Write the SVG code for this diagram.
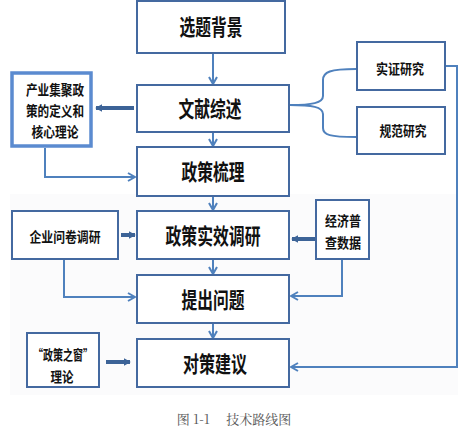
<svg xmlns="http://www.w3.org/2000/svg" width="468" height="433" viewBox="0 0 468 433">
<style>
.box{fill:#fff;stroke:#4469a0;stroke-width:2}
.thickbox{fill:#fff;stroke:#5b8bd0;stroke-width:3.5}
.main{font-family:"Noto Sans CJK SC","Noto Sans",sans-serif;font-weight:bold;font-size:22px;fill:#111;text-anchor:middle}
.side{font-family:"Noto Sans CJK SC","Noto Sans",sans-serif;font-weight:bold;font-size:14px;fill:#111;text-anchor:middle}
.ln{fill:none;stroke:#4f81bd;stroke-width:2}
.thick{fill:none;stroke:#3c6397;stroke-width:4}
.cap{font-family:"Noto Serif CJK SC","Noto Sans CJK SC",serif;font-size:13px;fill:#555;text-anchor:middle}
</style>
<defs>
<marker id="a" viewBox="0 0 10 10" refX="9" refY="5" markerWidth="10" markerHeight="10" markerUnits="userSpaceOnUse" orient="auto">
<path d="M2,1 L9,5 L2,9" fill="none" stroke="#4f81bd" stroke-width="2"/>
</marker>
<marker id="t" viewBox="0 0 10 10" refX="8" refY="5" markerWidth="8" markerHeight="9" markerUnits="userSpaceOnUse" orient="auto">
<path d="M0,0 L9,5 L0,10 Z" fill="#3c6397"/>
</marker>
</defs>
<rect x="10" y="194" width="448" height="201" fill="#fbfbfc"/>
<g id="connectors">
<line class="ln" x1="213" y1="54" x2="213" y2="84" marker-end="url(#a)"/>
<line class="ln" x1="213" y1="133" x2="213" y2="146" marker-end="url(#a)"/>
<line class="ln" x1="213" y1="197" x2="213" y2="210" marker-end="url(#a)"/>
<line class="ln" x1="213" y1="260" x2="213" y2="274" marker-end="url(#a)"/>
<line class="ln" x1="213" y1="324" x2="213" y2="338" marker-end="url(#a)"/>
<line class="thick" x1="134" y1="108" x2="96" y2="108" marker-end="url(#t)"/>
<polyline class="ln" points="45,148 45,177 135,177" marker-end="url(#a)"/>
<line class="thick" x1="121" y1="235" x2="135" y2="235" marker-end="url(#t)"/>
<polyline class="ln" points="64,260 64,297 135,297" marker-end="url(#a)"/>
<line class="thick" x1="315" y1="239" x2="292" y2="239" marker-end="url(#t)"/>
<polyline class="ln" points="342,260 342,296 291,296" marker-end="url(#a)"/>
<polyline class="ln" points="446,66 457,66 457,367 291,367" marker-end="url(#a)"/>
<line class="thick" x1="106" y1="362" x2="130" y2="362" marker-end="url(#t)"/>
<path class="ln" d="M290,105 C312,105 323,103 323,96 L323,80 C323,72 330,69 356,69"/>
<path class="ln" d="M290,105 C312,105 323,107 323,114 L323,128 C323,135 330,137 356,137"/>
</g>
<g id="n1"><rect class="box" x="137" y="1" width="148" height="52"/><text class="main" x="211" y="35" textLength="63" lengthAdjust="spacingAndGlyphs">选题背景</text></g>
<g id="n2"><rect class="box" x="137" y="85" width="152" height="47"/><text class="main" x="210" y="117" textLength="63" lengthAdjust="spacingAndGlyphs">文献综述</text></g>
<g id="n3"><rect class="thickbox" x="12" y="73" width="79" height="73"/><text class="side" x="55" y="95" textLength="58" lengthAdjust="spacingAndGlyphs">产业集聚政</text><text class="side" x="55" y="116" textLength="58" lengthAdjust="spacingAndGlyphs">策的定义和</text><text class="side" x="55" y="137" textLength="47" lengthAdjust="spacingAndGlyphs">核心理论</text></g>
<g id="n4"><rect class="box" x="357" y="42" width="88" height="48"/><text class="side" x="400" y="74" textLength="48" lengthAdjust="spacingAndGlyphs">实证研究</text></g>
<g id="n5"><rect class="box" x="357" y="107" width="88" height="47"/><text class="side" x="403" y="136" textLength="47" lengthAdjust="spacingAndGlyphs">规范研究</text></g>
<g id="n6"><rect class="box" x="137" y="147" width="152" height="49"/><text class="main" x="213" y="180" textLength="63" lengthAdjust="spacingAndGlyphs">政策梳理</text></g>
<g id="n7"><rect class="box" x="12" y="211" width="106" height="48"/><text class="side" x="65" y="242" textLength="71" lengthAdjust="spacingAndGlyphs">企业问卷调研</text></g>
<g id="n8"><rect class="box" x="137" y="211" width="152" height="48"/><text class="main" x="213" y="244" textLength="95" lengthAdjust="spacingAndGlyphs">政策实效调研</text></g>
<g id="n9"><rect class="box" x="316" y="200" width="53" height="59"/><text class="side" x="343" y="226" textLength="36" lengthAdjust="spacingAndGlyphs">经济普</text><text class="side" x="343" y="248" textLength="36" lengthAdjust="spacingAndGlyphs">查数据</text></g>
<g id="n10"><rect class="box" x="137" y="275" width="152" height="48"/><text class="main" x="213" y="308" textLength="63" lengthAdjust="spacingAndGlyphs">提出问题</text></g>
<g id="n11"><rect class="box" x="27" y="333" width="72" height="54"/><text class="side" x="63" y="360" textLength="60" lengthAdjust="spacingAndGlyphs">“政策之窗”</text><text class="side" x="62" y="382" textLength="23" lengthAdjust="spacingAndGlyphs">理论</text></g>
<g id="n12"><rect class="box" x="137" y="339" width="152" height="48"/><text class="main" x="215" y="372" textLength="64" lengthAdjust="spacingAndGlyphs">对策建议</text></g>
<text class="cap" x="234" y="424" xml:space="preserve">图 1-1　 技术路线图</text>
</svg>
